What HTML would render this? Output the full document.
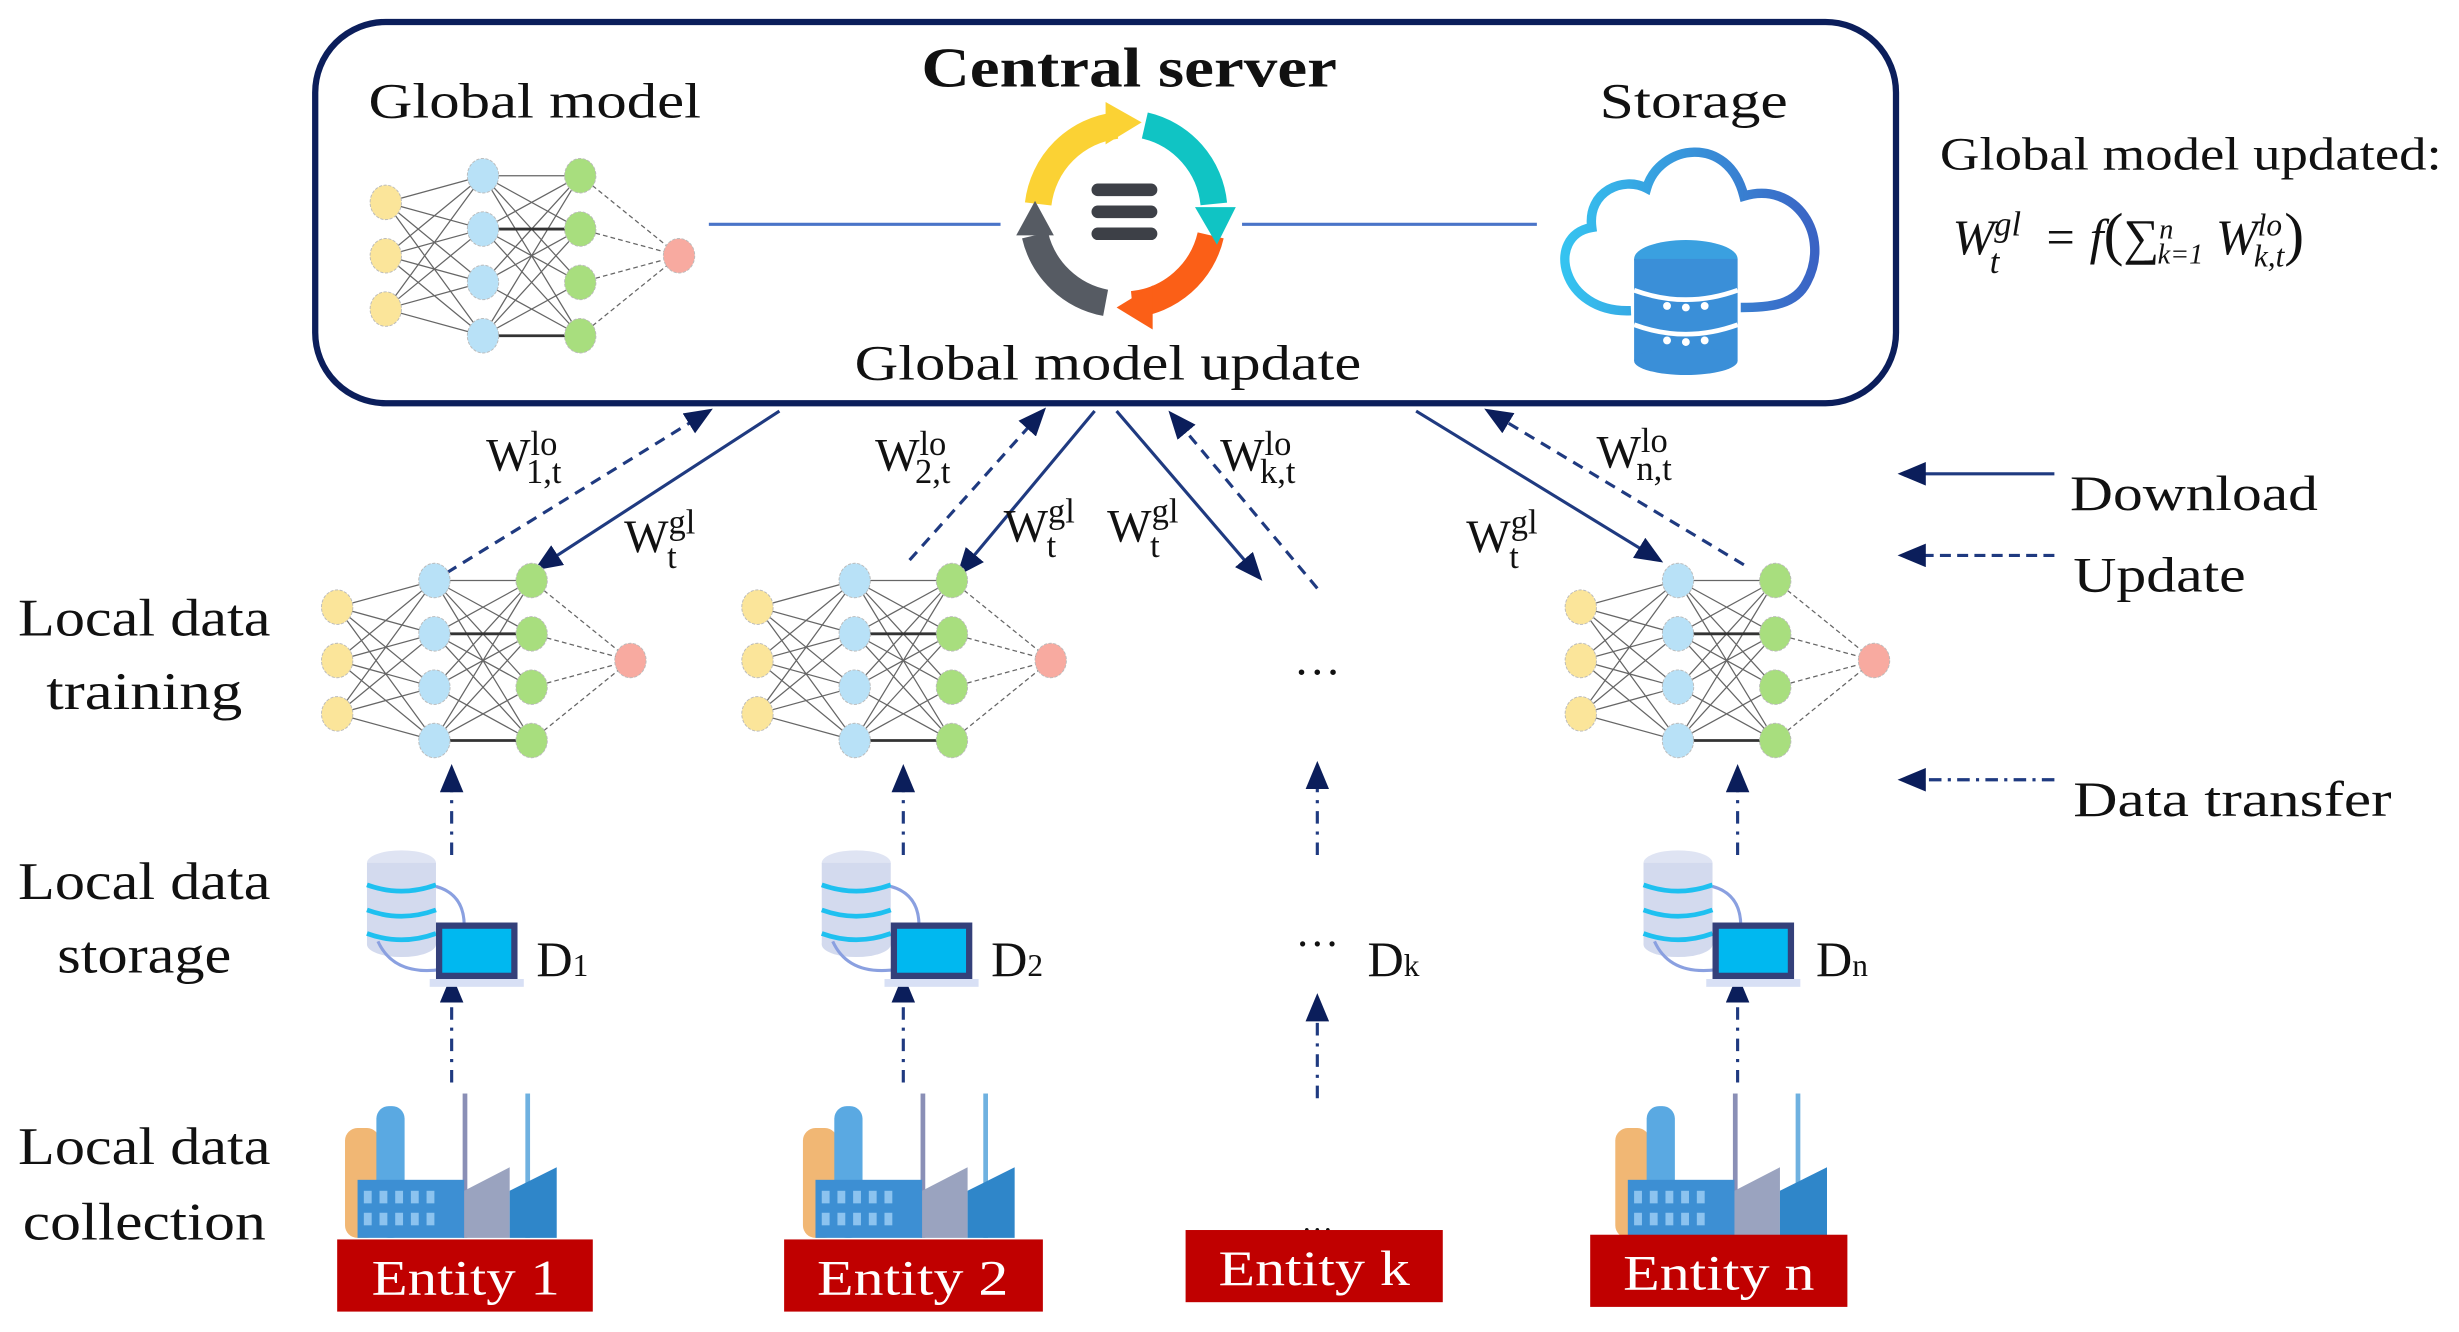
<!DOCTYPE html>
<html><head><meta charset="utf-8"><style>
html,body{margin:0;padding:0;background:#fff;}
svg{display:block;}
text{font-family:"Liberation Serif",serif;fill:#111;}
text.w{fill:#fff;}
</style></head><body>
<svg width="2459" height="1332" viewBox="0 0 1568 849" preserveAspectRatio="none" xmlns="http://www.w3.org/2000/svg">
<defs>
<marker id="ah2" viewBox="0 0 12 10" refX="10" refY="5" markerWidth="9" markerHeight="7.5" orient="auto-start-reverse" markerUnits="strokeWidth">
<path d="M0,0 L12,5 L0,10 z" fill="#0b1e5b"/></marker>
<g id="nn">
 <g stroke="#666" stroke-width="0.8" fill="none">
  <path d="M0,-34L62,-51M0,-34L62,-17M0,-34L62,17M0,-34L62,51M0,0L62,-51M0,0L62,-17M0,0L62,17M0,0L62,51M0,34L62,-51M0,34L62,-17M0,34L62,17M0,34L62,51"/>
  <path d="M62,-51L124,-51M62,-51L124,-17M62,-51L124,17M62,-51L124,51M62,-17L124,-51M62,-17L124,17M62,-17L124,51M62,17L124,-51M62,17L124,-17M62,17L124,51M62,51L124,-51M62,51L124,-17M62,51L124,17" />
  <path d="M124,-51L187,0M124,-17L187,0M124,17L187,0M124,51L187,0" stroke-dasharray="3,2"/>
  <path d="M62,-17L124,-17M62,51L124,51" stroke="#333" stroke-width="1.8"/>
 </g>
 <g stroke="#bbb" stroke-width="0.6" stroke-dasharray="2,1">
  <ellipse cx="0" cy="-34" rx="10" ry="11" fill="#fbe59a"/>
  <ellipse cx="0" cy="0" rx="10" ry="11" fill="#fbe59a"/>
  <ellipse cx="0" cy="34" rx="10" ry="11" fill="#fbe59a"/>
  <ellipse cx="62" cy="-51" rx="10" ry="11" fill="#b8e1f7"/>
  <ellipse cx="62" cy="-17" rx="10" ry="11" fill="#b8e1f7"/>
  <ellipse cx="62" cy="17" rx="10" ry="11" fill="#b8e1f7"/>
  <ellipse cx="62" cy="51" rx="10" ry="11" fill="#b8e1f7"/>
  <ellipse cx="124" cy="-51" rx="10" ry="11" fill="#a8de7e"/>
  <ellipse cx="124" cy="-17" rx="10" ry="11" fill="#a8de7e"/>
  <ellipse cx="124" cy="17" rx="10" ry="11" fill="#a8de7e"/>
  <ellipse cx="124" cy="51" rx="10" ry="11" fill="#a8de7e"/>
  <ellipse cx="187" cy="0" rx="10" ry="11" fill="#f8aaa0"/>
 </g>
</g>
<g id="store">
 <ellipse cx="0" cy="-20" rx="22" ry="8" fill="#dfe4f3"/>
 <rect x="-22" y="-20" width="44" height="52" fill="#d3daee"/>
 <ellipse cx="0" cy="32" rx="22" ry="8" fill="#d3daee"/>
 <path d="M-22,-6 q22,8 44,0 M-22,10 q22,8 44,0 M-22,25 q22,8 44,0" stroke="#1ec0f0" stroke-width="3" fill="none"/>
 <path d="M22,-5 q18,5 18,25 M-15,30 q10,22 40,18" stroke="#8aa0e0" stroke-width="2" fill="none"/>
 <rect x="22" y="18" width="52" height="36" fill="#34407a"/>
 <rect x="26" y="22" width="44" height="28" fill="#00b8f0"/>
 <rect x="18" y="54" width="60" height="5" fill="#d8e0f5"/>
</g>
<g id="fac">
 <rect x="0" y="22" width="22" height="70" rx="8" fill="#f1b774"/>
 <rect x="20" y="8" width="18" height="84" rx="8" fill="#5aa9e2"/>
 <rect x="75" y="0" width="3" height="92" fill="#8a8fb6"/>
 <rect x="115" y="0" width="3" height="92" fill="#6fb1e0"/>
 <rect x="8" y="55" width="68" height="37" fill="#3d8fd3"/>
 <path d="M76,92 L76,62 L105,47 L105,92z" fill="#9aa3bf"/>
 <path d="M105,92 L105,62 L135,47 L135,92z" fill="#2f86c9"/>
 <g fill="#8cc3ef"><rect x="12" y="62" width="5" height="8"/><rect x="22" y="62" width="5" height="8"/><rect x="32" y="62" width="5" height="8"/><rect x="42" y="62" width="5" height="8"/><rect x="52" y="62" width="5" height="8"/><rect x="12" y="76" width="5" height="8"/><rect x="22" y="76" width="5" height="8"/><rect x="32" y="76" width="5" height="8"/><rect x="42" y="76" width="5" height="8"/><rect x="52" y="76" width="5" height="8"/></g>
</g>
<linearGradient id="cg" x1="0" x2="1"><stop offset="0" stop-color="#35c3f0"/><stop offset="1" stop-color="#3a63c4"/></linearGradient>
</defs>

<rect x="201" y="14" width="1008" height="243" rx="45" fill="#fff" stroke="#0b1e5b" stroke-width="4"/>
<text x="720" y="55" font-size="36" font-weight="bold" text-anchor="middle" textLength="265" lengthAdjust="spacingAndGlyphs">Central server</text>
<text x="235" y="75" font-size="32" textLength="212" lengthAdjust="spacingAndGlyphs">Global model</text>
<text x="1020" y="75" font-size="32" textLength="120" lengthAdjust="spacingAndGlyphs">Storage</text>
<text x="545" y="242" font-size="32" textLength="323" lengthAdjust="spacingAndGlyphs">Global model update</text>
<use href="#nn" x="246" y="163"/>
<line x1="452" y1="143" x2="638" y2="143" stroke="#4a74c8" stroke-width="2"/>
<line x1="792" y1="143" x2="980" y2="143" stroke="#4a74c8" stroke-width="2"/>
<g fill="none" stroke-width="17">
 <path d="M662,130 A57,57 0 0 1 712,80" stroke="#fbd234"/>
 <path d="M730,80 A57,57 0 0 1 774,130" stroke="#10c4c4"/>
 <path d="M772,150 A57,57 0 0 1 722,194" stroke="#fb5f17"/>
 <path d="M705,193 A57,57 0 0 1 660,150" stroke="#565b63"/>
</g>
<path d="M705,65 L728,78 L705,92z" fill="#fbd234"/>
<path d="M762,132 L788,132 L776,156z" fill="#10c4c4"/>
<path d="M735,182 L712,196 L735,210z" fill="#fb5f17"/>
<path d="M648,150 L672,150 L660,128z" fill="#565b63"/>
<g fill="#3d4047"><rect x="696" y="117" width="42" height="8" rx="4"/><rect x="696" y="131" width="42" height="8" rx="4"/><rect x="696" y="145" width="42" height="8" rx="4"/></g>
<path d="M1040,198 C995,200 985,150 1015,145 C1012,122 1035,112 1050,120 C1058,92 1102,85 1112,125 C1145,115 1168,150 1152,180 C1145,194 1130,196 1110,196" fill="none" stroke="url(#cg)" stroke-width="6"/>
<g>
 <ellipse cx="1075" cy="165" rx="33" ry="12" fill="#3aa0e0"/>
 <rect x="1042" y="165" width="66" height="65" fill="#3a8fd8"/>
 <ellipse cx="1075" cy="230" rx="33" ry="9" fill="#3a8fd8"/>
 <path d="M1042,185 q33,12 66,0 M1042,207 q33,12 66,0" stroke="#fff" stroke-width="3" fill="none"/>
 <g fill="#fff"><circle cx="1063" cy="195" r="2.5"/><circle cx="1075" cy="196" r="2.5"/><circle cx="1087" cy="195" r="2.5"/><circle cx="1063" cy="217" r="2.5"/><circle cx="1075" cy="218" r="2.5"/><circle cx="1087" cy="217" r="2.5"/></g>
</g>

<text x="1237" y="108" font-size="30" textLength="320" lengthAdjust="spacingAndGlyphs">Global model updated:</text>
<text x="1245" y="162" font-size="32" font-style="italic">W<tspan dy="-12" font-size="22">gl</tspan><tspan dx="-20" dy="24" font-size="22">t</tspan><tspan dy="-12" dx="20"> = f</tspan><tspan font-style="normal" font-size="38">(</tspan><tspan font-style="normal">∑</tspan><tspan dy="-10" font-size="18">n</tspan><tspan dx="-10" dy="16" font-size="18">k=1</tspan><tspan dy="-6"> W</tspan><tspan dy="-12" font-size="20">lo</tspan><tspan dx="-18" dy="20" font-size="20">k,t</tspan><tspan dy="-8" font-style="normal" font-size="38">)</tspan></text>

<g stroke="#1f3a80" stroke-width="2" fill="none">
 <line x1="285" y1="365" x2="452" y2="262" stroke-dasharray="7,5" marker-end="url(#ah2)"/>
 <line x1="497" y1="262" x2="343" y2="362" marker-end="url(#ah2)"/>
 <line x1="580" y1="357" x2="665" y2="262" stroke-dasharray="7,5" marker-end="url(#ah2)"/>
 <line x1="698" y1="262" x2="612" y2="365" marker-end="url(#ah2)"/>
 <line x1="712" y1="262" x2="803" y2="368" marker-end="url(#ah2)"/>
 <line x1="840" y1="375" x2="747" y2="264" stroke-dasharray="7,5" marker-end="url(#ah2)"/>
 <line x1="903" y1="262" x2="1058" y2="357" marker-end="url(#ah2)"/>
 <line x1="1112" y1="360" x2="949" y2="262" stroke-dasharray="7,5" marker-end="url(#ah2)"/>
</g>
<g font-size="30">
 <text x="310" y="300">W<tspan dy="-10" font-size="22">lo</tspan><tspan dx="-20" dy="18" font-size="22">1,t</tspan></text>
 <text x="398" y="352">W<tspan dy="-12" font-size="22">gl</tspan><tspan dx="-18" dy="22" font-size="22">t</tspan></text>
 <text x="558" y="300">W<tspan dy="-10" font-size="22">lo</tspan><tspan dx="-20" dy="18" font-size="22">2,t</tspan></text>
 <text x="640" y="345">W<tspan dy="-12" font-size="22">gl</tspan><tspan dx="-18" dy="22" font-size="22">t</tspan></text>
 <text x="706" y="345">W<tspan dy="-12" font-size="22">gl</tspan><tspan dx="-18" dy="22" font-size="22">t</tspan></text>
 <text x="778" y="300">W<tspan dy="-10" font-size="22">lo</tspan><tspan dx="-20" dy="18" font-size="22">k,t</tspan></text>
 <text x="1018" y="298">W<tspan dy="-10" font-size="22">lo</tspan><tspan dx="-20" dy="18" font-size="22">n,t</tspan></text>
 <text x="935" y="352">W<tspan dy="-12" font-size="22">gl</tspan><tspan dx="-18" dy="22" font-size="22">t</tspan></text>
</g>

<g stroke="#1f3a80" stroke-width="2" fill="none">
 <line x1="1310" y1="302" x2="1213" y2="302" marker-end="url(#ah2)"/>
 <line x1="1310" y1="354" x2="1213" y2="354" stroke-dasharray="7,4" marker-end="url(#ah2)"/>
 <line x1="1310" y1="497" x2="1213" y2="497" stroke-dasharray="8,4,2,4" marker-end="url(#ah2)"/>
</g>
<g font-size="32">
 <text x="1320" y="325" textLength="158" lengthAdjust="spacingAndGlyphs">Download</text>
 <text x="1322" y="377" textLength="110" lengthAdjust="spacingAndGlyphs">Update</text>
 <text x="1322" y="520" textLength="203" lengthAdjust="spacingAndGlyphs">Data transfer</text>
</g>

<g font-size="34" text-anchor="middle">
 <text x="92" y="405" textLength="161" lengthAdjust="spacingAndGlyphs">Local data</text>
 <text x="92" y="452" textLength="125" lengthAdjust="spacingAndGlyphs">training</text>
 <text x="92" y="573" textLength="161" lengthAdjust="spacingAndGlyphs">Local data</text>
 <text x="92" y="620" textLength="111" lengthAdjust="spacingAndGlyphs">storage</text>
 <text x="92" y="742" textLength="161" lengthAdjust="spacingAndGlyphs">Local data</text>
 <text x="92" y="790" textLength="155" lengthAdjust="spacingAndGlyphs">collection</text>
</g>

<use href="#nn" x="215" y="421"/>
<use href="#nn" x="483" y="421"/>
<use href="#nn" x="1008" y="421"/>
<text x="840" y="430" font-size="30" text-anchor="middle">…</text>

<g stroke="#1f3a80" stroke-width="2" fill="none" stroke-dasharray="8,5,2,5">
 <line x1="288" y1="545" x2="288" y2="490" marker-end="url(#ah2)"/>
 <line x1="288" y1="690" x2="288" y2="624" marker-end="url(#ah2)"/>
 <line x1="576" y1="545" x2="576" y2="490" marker-end="url(#ah2)"/>
 <line x1="576" y1="690" x2="576" y2="624" marker-end="url(#ah2)"/>
 <line x1="840" y1="545" x2="840" y2="488" marker-end="url(#ah2)"/>
 <line x1="840" y1="700" x2="840" y2="636" marker-end="url(#ah2)"/>
 <line x1="1108" y1="545" x2="1108" y2="490" marker-end="url(#ah2)"/>
 <line x1="1108" y1="690" x2="1108" y2="624" marker-end="url(#ah2)"/>
</g>

<use href="#store" x="256" y="570"/>
<use href="#store" x="546" y="570"/>
<use href="#store" x="1070" y="570"/>
<g font-size="32">
 <text x="342" y="622">D<tspan font-size="20">1</tspan></text>
 <text x="632" y="622">D<tspan font-size="20">2</tspan></text>
 <text x="872" y="622">D<tspan font-size="20">k</tspan></text>
 <text x="1158" y="622">D<tspan font-size="20">n</tspan></text>
</g>
<text x="840" y="603" font-size="28" text-anchor="middle">…</text>

<use href="#fac" x="220" y="697"/>
<use href="#fac" x="512" y="697"/>
<use href="#fac" x="1030" y="697"/>
<text x="840" y="785" font-size="20" text-anchor="middle">…</text>

<g fill="#c00000">
 <rect x="215" y="790" width="163" height="46"/>
 <rect x="500" y="790" width="165" height="46"/>
 <rect x="756" y="784" width="164" height="46"/>
 <rect x="1014" y="787" width="164" height="46"/>
</g>
<g font-size="32" text-anchor="middle">
 <text class="w" x="297" y="825" textLength="120" lengthAdjust="spacingAndGlyphs">Entity 1</text>
 <text class="w" x="582" y="825" textLength="122" lengthAdjust="spacingAndGlyphs">Entity 2</text>
 <text class="w" x="838" y="819" textLength="122" lengthAdjust="spacingAndGlyphs">Entity k</text>
 <text class="w" x="1096" y="822" textLength="122" lengthAdjust="spacingAndGlyphs">Entity n</text>
</g>
</svg>
</body></html>
